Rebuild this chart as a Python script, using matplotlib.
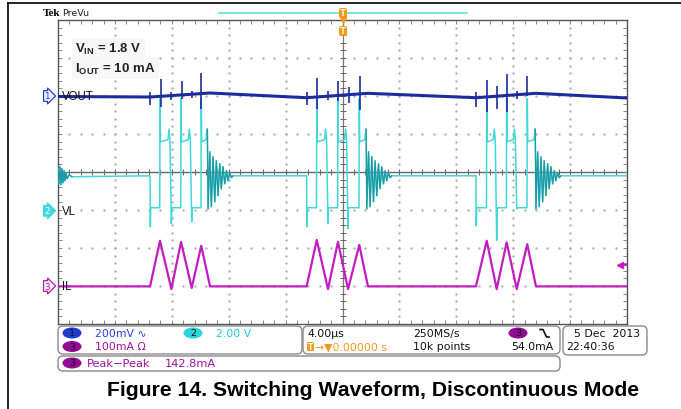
import numpy as np
import matplotlib
matplotlib.use('Agg')
import matplotlib.pyplot as plt
import matplotlib.transforms as mtransforms
from matplotlib.patches import Ellipse, FancyBboxPatch
from matplotlib.ticker import MultipleLocator

# time base 4 us/div, trigger at screen centre
t_min, t_max = -20.0, 20.0

# channel scale per div and marker position (div)
ch1_scale, ch1_pos = 200.0, 2.0     # VOUT, mV (AC)
ch2_scale, ch2_pos = 2.0, -1.02     # VL, V
ch3_scale, ch3_pos = 100.0, -3.0    # IL, mA
trig_level = 54.0                   # mA

# bursts: start, peak1, valley1, peak2, valley2, peak3, ring start (us)
burst_t = [
    [-13.53, -12.83, -12.03, -11.35, -10.60, -9.93, -9.50],
    [-2.52, -1.81, -1.02, -0.32, 0.39, 1.18, 1.66],
    [9.38, 10.14, 10.84, 11.54, 12.25, 12.99, 13.55],
]
il_end_t = [-9.31, 1.79, 13.60]
il_peak = [[119, 116, 106], [121, 116, 108], [119, 115, 110]]   # mA
il_valley = [[-8, -5], [-8, -8], [-8, -8]]
il_base = -1.0

# VL levels (V)
vl_rest, vl_low, vl_high, vl_high2, vl_bump, vl_spike = 1.84, 0.16, 3.63, 3.74, 4.3, 5.9
vl_dip = [[-0.84, -0.68, -0.58], [-0.84, -0.68, -0.95], [-0.79, -1.56, 0.10]]
ring_dt = [0.05, 0.17, 0.28, 0.40, 0.52, 0.63, 0.75, 0.87, 0.98, 1.10, 1.22, 1.34, 1.45, 1.57, 1.69, 1.80]
ring_v = [0.10, 3.10, 0.21, 2.84, 0.47, 2.63, 0.79, 2.47, 1.16, 2.32, 1.42, 2.11, 1.58, 2.00, 1.74, 1.84]
tail_t = [-20.0, -19.93, -19.86, -19.79, -19.72, -19.65, -19.58, -19.51, -19.44, -19.37, -19.23, -19.02]
tail_v = [2.21, 1.42, 2.32, 1.37, 2.21, 1.47, 2.11, 1.58, 2.00, 1.68, 1.89, 1.79]

# VOUT (mV, AC coupled)
vout_t = [-20.0, -13.53, -9.31, -2.52, 1.79, 9.38, 13.60, 20.0]
vout_mv = [-2.6, -5.3, 15.8, -9.0, 14.2, -9.0, 14.2, -10.5]
vout_spk_t = [-13.5, -12.76, -12.05, -11.3, -10.6, -9.93, -2.47, -1.77, -1.0, -0.3, 0.49, 1.22,
              9.4, 10.16, 10.86, 11.56, 12.27, 13.0]
vout_spk_hi = [21, 89, 21, 79, 26, 121, 21, 95, 26, 79, 47, 105, 21, 84, 53, 116, 26, 105]
vout_spk_lo = [-47, -58, -21, -16, -10, -68, -47, -68, -21, -26, -37, -74, -58, -84, -68, -84, -16, 0]

c_vout = '#1b2c9e'
c_vl = '#3fd8dc'
c_ring = '#1f98a3'
c_il = '#c21cc2'
c_orange = '#f39a1c'


def to_div(vals, scale, pos):
    return [pos + v / scale for v in vals]


# build VL polyline
vl_t = list(tail_t)
vl_v = list(tail_v)
ring_segs = []
for e, dips in zip(burst_t, vl_dip):
    s, p1, m1, p2, m2, p3, r = e
    vl_t += [s, s + 0.02, s + 0.05,
             p1 - 0.02, p1, p1 + 0.03, m1 - 0.24, m1 - 0.17, m1 - 0.10, m1, m1 + 0.03,
             p2 - 0.02, p2, p2 + 0.03, m2 - 0.24, m2 - 0.17, m2 - 0.10, m2, m2 + 0.03,
             p3 - 0.02, p3, p3 + 0.03, r - 0.10, r]
    vl_v += [vl_rest, dips[0], vl_low,
             vl_low, vl_spike, vl_high, vl_high2, vl_bump, vl_high2, dips[1], vl_low,
             vl_low, vl_spike, vl_high, vl_high2, vl_bump, vl_high2, dips[2], vl_low,
             vl_low, vl_spike, vl_high, vl_high2, vl_bump]
    rt = [r] + [r + d for d in ring_dt]
    rv = [vl_bump] + ring_v
    ring_segs.append((rt, rv))
    vl_t += rt[1:]
    vl_v += rv[1:]
vl_t.append(t_max)
vl_v.append(vl_rest)

# build IL polyline
il_t = [t_min]
il_v = [il_base]
for e, pk, va, end in zip(burst_t, il_peak, il_valley, il_end_t):
    s, p1, m1, p2, m2, p3, r = e
    il_t += [s, p1, m1, p2, m2, p3, end]
    il_v += [il_base, pk[0], va[0], pk[1], va[1], pk[2], il_base]
il_t.append(t_max)
il_v.append(il_base)

plt.rcParams['mathtext.fontset'] = 'custom'
plt.rcParams['mathtext.rm'] = 'Liberation Sans:bold'

fig = plt.figure(figsize=(6.81, 4.10), dpi=100)
ax = fig.add_axes([58 / 681, 1 - 325 / 410, 569 / 681, 304 / 410])
ax.set_xlim(t_min, t_max)
ax.set_ylim(-4, 4)

# graticule
gcol = '#b0b0b0'
ydots = np.arange(-4, 4.001, 0.2)
xdots = np.arange(t_min, t_max + 0.001, 0.8)
for k in range(-4, 5):
    if k != 0:
        ax.plot([k * 4.0] * len(ydots), ydots, ls='none', marker='o', ms=0.7, color=gcol, zorder=1)
for j in range(-3, 4):
    if j != 0:
        ax.plot(xdots, [j] * len(xdots), ls='none', marker='o', ms=0.7, color=gcol, zorder=1)
ax.axhline(0, color='#666666', lw=1.0, zorder=1)
ax.axvline(0, color='#777777', lw=0.9, zorder=1)
ax.plot(xdots, [0] * len(xdots), ls='none', marker='|', ms=4, mew=0.7, color='#666666', zorder=1)
ax.plot([0] * len(ydots), ydots, ls='none', marker='_', ms=4, mew=0.7, color='#666666', zorder=1)

ax.set_xticks(np.arange(t_min, t_max + 0.1, 4))
ax.set_yticks(np.arange(-4, 4.1, 1))
ax.xaxis.set_minor_locator(MultipleLocator(0.8))
ax.yaxis.set_minor_locator(MultipleLocator(0.2))
ax.tick_params(which='both', direction='in', length=3, width=0.7, color='#888888',
               top=True, right=True, labelbottom=False, labelleft=False)
for sp in ax.spines.values():
    sp.set_color('#555555')
    sp.set_linewidth(1.0)

# traces
ax.plot(vout_t, to_div(vout_mv, ch1_scale, ch1_pos), color=c_vout, lw=2.2, zorder=4)
ax.vlines(vout_spk_t, to_div(vout_spk_lo, ch1_scale, ch1_pos), to_div(vout_spk_hi, ch1_scale, ch1_pos),
          color=c_vout, lw=1.2, zorder=4)
ax.plot(vl_t, to_div(vl_v, ch2_scale, ch2_pos), color=c_vl, lw=1.1, zorder=3)
for rt, rv in ring_segs:
    ax.plot(rt, to_div(rv, ch2_scale, ch2_pos), color=c_ring, lw=0.9, zorder=3)
ax.plot(tail_t, to_div(tail_v, ch2_scale, ch2_pos), color=c_ring, lw=0.9, zorder=3)
ax.plot(il_t, to_div(il_v, ch3_scale, ch3_pos), color=c_il, lw=1.6, zorder=3)

# conditions text
ax.text(-18.8, 3.25, 'V$_{\\rm IN}$ = 1.8 V', family='Liberation Sans', weight='bold', fontsize=9.5,
        color='#222222', va='center', ha='left', zorder=2,
        bbox=dict(boxstyle='square,pad=0.25', fc='#f7f7f7', ec='none'))
ax.text(-18.8, 2.73, 'I$_{\\rm OUT}$ = 10 mA', family='Liberation Sans', weight='bold', fontsize=9.5,
        color='#222222', va='center', ha='left', zorder=2,
        bbox=dict(boxstyle='square,pad=0.25', fc='#f7f7f7', ec='none'))

# channel tags and labels
trans = mtransforms.blended_transform_factory(ax.transAxes, ax.transData)
tags = [('1', 'VOUT', ch1_pos, '#2a3fd0', '#eef0ff', '#2a3fd0'),
        ('2', 'VL', ch2_pos, '#ffffff', c_vl, c_vl),
        ('3', 'IL', ch3_pos, '#a012a0', '#fbeefb', '#b020b0')]
for num, name, pos, tc, fc, ec in tags:
    ax.text(-0.019, pos, num, transform=trans, ha='center', va='center', fontsize=6.3, color=tc,
            clip_on=False, bbox=dict(boxstyle='rarrow,pad=0.1', fc=fc, ec=ec, lw=0.9))
    ax.text(0.007, pos, name, transform=trans, ha='left', va='center', fontsize=8.3,
            family='Liberation Sans', color='#111111', zorder=5)
ax.plot([0.988], [ch3_pos + trig_level / ch3_scale], transform=trans, marker='<', ms=5,
        color=c_il, clip_on=False, zorder=5)
ax.plot([0.988, 1.0], [ch3_pos + trig_level / ch3_scale] * 2, transform=trans, color=c_il,
        lw=1.4, clip_on=False, zorder=5)

# overlay in pixel coordinates
ov = fig.add_axes([0, 0, 1, 1])
ov.set_xlim(0, 681)
ov.set_ylim(410, 0)
ov.axis('off')
ov.patch.set_alpha(0)

ov.plot([8, 681], [4, 4], color='black', lw=1.2)
ov.plot([8, 8], [4, 410], color='black', lw=1.2)

ov.text(43, 14, 'Tek', family='Liberation Serif', weight='bold', fontsize=8, va='center', ha='left')
ov.text(62, 13.5, 'PreVu', fontsize=6.8, va='center', ha='left', color='#222222')
ov.plot([219, 467], [14, 14], color='#5fe0e6', lw=1.2)
for yy in (14, 32):
    ov.add_patch(FancyBboxPatch((339, yy - 5), 8, 10, boxstyle='round,pad=0,rounding_size=2',
                                fc=c_orange, ec='none', zorder=6))
    ov.text(343, yy, 'T', ha='center', va='center', fontsize=6, weight='bold', color='#fff4dd', zorder=7)
ov.plot([343], [21], marker='v', ms=4, color=c_orange, zorder=6)

# info boxes
for x0, y0, w, h in [(58, 327, 244, 28), (303, 327, 257, 28), (563, 327, 84, 29), (58, 357, 502, 15)]:
    ov.add_patch(FancyBboxPatch((x0, y0), w, h, boxstyle='round,pad=0,rounding_size=5',
                                fc='white', ec='#8a8a8a', lw=1.0))

ufs = 7.8
c1t, c2t, c3t = '#2a3fe0', '#22c8d8', '#a010a0'
badges = [(72, 334, '#1f3ed0', '1'), (193, 334, '#2ad4dc', '2'), (72, 347.5, '#940a94', '3'),
          (518, 334, '#940a94', '3'), (72, 364, '#940a94', '3')]
for bx, by, bc, bt in badges:
    ov.add_patch(Ellipse((bx, by), 19, 11, fc=bc, ec='none'))
    ov.text(bx, by, bt, ha='center', va='center', fontsize=6.8, color='#111111')

ov.text(95, 334, '200mV \u223f', fontsize=ufs, color=c1t, va='center')
ov.text(216, 334, '2.00 V', fontsize=ufs, color=c2t, va='center')
ov.text(95, 347.5, '100mA \u03a9', fontsize=ufs, color=c3t, va='center')
ov.text(307, 334, '4.00\u00b5s', fontsize=ufs, color='#111111', va='center')
ov.text(413, 334, '250MS/s', fontsize=ufs, color='#111111', va='center')
ov.plot([540, 543, 546.5, 549], [330.5, 330.5, 338, 338], color='#111111', lw=1.2)
ov.add_patch(FancyBboxPatch((307, 343), 7, 9, boxstyle='round,pad=0,rounding_size=1.5',
                            fc=c_orange, ec='none'))
ov.text(310.5, 347.5, 'T', ha='center', va='center', fontsize=5.5, weight='bold', color='#fff4dd')
ov.text(315, 347.5, '\u2192\u25bc0.00000 s', fontsize=ufs, color=c_orange, va='center')
ov.text(413, 347.5, '10k points', fontsize=ufs, color='#111111', va='center')
ov.text(553, 347.5, '54.0mA', fontsize=ufs, color='#111111', va='center', ha='right')
ov.text(574, 334, '5 Dec  2013', fontsize=ufs, color='#111111', va='center')
ov.text(566, 347.5, '22:40:36', fontsize=ufs, color='#111111', va='center')
ov.text(87, 364, 'Peak\u2212Peak', fontsize=8.2, color=c3t, va='center')
ov.text(165, 364, '142.8mA', fontsize=8.2, color=c3t, va='center')

ov.text(373, 391, 'Figure 14. Switching Waveform, Discontinuous Mode', family='Liberation Sans',
        weight='bold', fontsize=15.2, ha='center', va='center', color='black')

fig.savefig('out.png', dpi=100)
